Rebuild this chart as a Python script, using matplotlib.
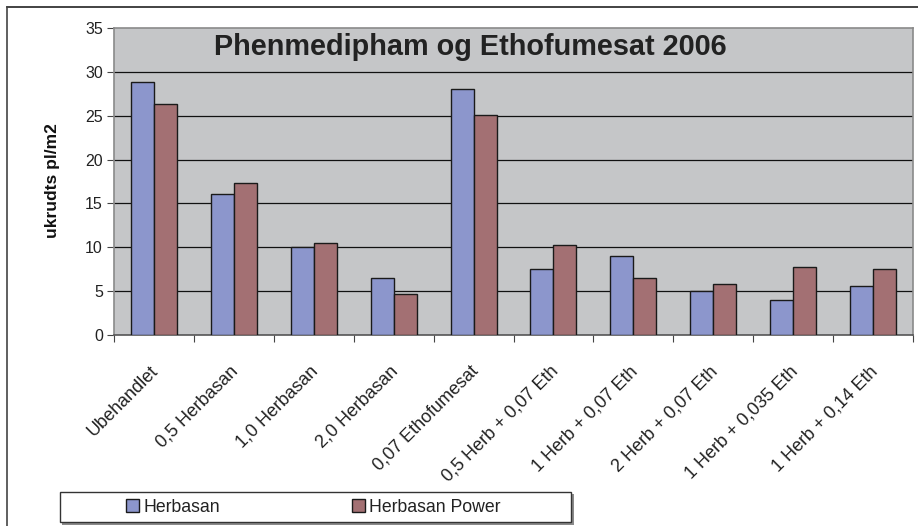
import matplotlib
matplotlib.use("Agg")
import matplotlib.pyplot as plt
from matplotlib.lines import Line2D
from matplotlib.patches import Rectangle
import matplotlib.transforms as mtransforms
import numpy as np

plt.rcParams['font.family'] = ['Liberation Sans', 'DejaVu Sans']

# data
categories = ["Ubehandlet", "0,5 Herbasan", "1,0 Herbasan", "2,0 Herbasan",
              "0,07 Ethofumesat", "0,5 Herb + 0,07 Eth", "1 Herb + 0,07 Eth",
              "2 Herb + 0,07 Eth", "1 Herb + 0,035 Eth", "1 Herb + 0,14 Eth"]
herbasan = [28.8, 16.1, 10.0, 6.5, 28.1, 7.5, 9.0, 5.0, 4.0, 5.55]
herbasan_power = [26.3, 17.3, 10.5, 4.7, 25.1, 10.25, 6.5, 5.8, 7.8, 7.5]
series_names = ["Herbasan", "Herbasan Power"]
yticks = [0, 5, 10, 15, 20, 25, 30, 35]

W, H = 918, 526
fig = plt.figure(figsize=(W / 100, H / 100), dpi=100)
fig.patch.set_facecolor("white")

# plot area in pixel coords
left, right, top, bottom = 114, 913, 28, 335
ax = fig.add_axes([left / W, 1 - bottom / H, (right - left) / W, (bottom - top) / H])
ax.set_facecolor("#C5C6C8")

x = np.arange(len(categories))
bw = 0.288
ax.bar(x - bw / 2, herbasan, bw, color="#8C96CC", edgecolor="#1a1a1a", linewidth=1.0,
       label=series_names[0], zorder=3)
ax.bar(x + bw / 2, herbasan_power, bw, color="#A37073", edgecolor="#1a1a1a", linewidth=1.0,
       label=series_names[1], zorder=3)

ax.set_xlim(-0.5, len(categories) - 0.5)
ax.set_ylim(0, 35)

# y axis
ax.set_yticks(yticks)
ax.set_yticklabels([str(v) for v in yticks], fontsize=11.5, color="#222222")
ax.tick_params(axis="y", direction="out", length=5, width=0.8, color="#444444", pad=3)
for v in yticks[1:-1]:
    ax.axhline(v, color="#111111", linewidth=0.9, zorder=1)

# x axis: ticks at category boundaries, labels at centres
ax.set_xticks(np.arange(-0.5, len(categories), 1), minor=True)
ax.set_xticks(x)
ax.set_xticklabels(categories, rotation=45, ha="right", rotation_mode="anchor",
                   fontsize=13, color="#222222")
ax.tick_params(axis="x", which="major", length=0, pad=20)
ax.tick_params(axis="x", which="minor", direction="out", length=5, width=0.8, color="#444444")
shift = mtransforms.ScaledTranslation(-4 / 100, 0, fig.dpi_scale_trans)
for lbl in ax.get_xticklabels():
    lbl.set_transform(lbl.get_transform() + shift)

for s in ax.spines.values():
    s.set_color("#8a8a8a")
    s.set_linewidth(1.2)
ax.spines["bottom"].set_color("#555555")

# y label
fig.text(52 / W, 1 - 181 / H, "ukrudts pl/m2", fontsize=12.5, fontweight="bold",
         rotation=90, ha="center", va="center", color="#111111")

# title inside plot area
fig.text(470 / W, 1 - 47 / H, "Phenmedipham og Ethofumesat 2006", fontsize=20.8,
         fontweight="bold", ha="center", va="center", color="#222222")

# outer chart border (cut off at right and bottom)
fig.add_artist(Line2D([7 / W, 1.0], [1 - 7 / H, 1 - 7 / H], color="#222222", linewidth=1.2))
fig.add_artist(Line2D([7 / W, 7 / W], [1 - 7 / H, 0.0], color="#444444", linewidth=1.2))

# legend box with a little shadow
fig.add_artist(Rectangle((62 / W, 1 - 525 / H), 512 / W, 31 / H, transform=fig.transFigure,
                         facecolor="#8a8a8a", edgecolor="none"))
fig.add_artist(Rectangle((60 / W, 1 - 522 / H), 511 / W, 30 / H, transform=fig.transFigure,
                         facecolor="white", edgecolor="#333333", linewidth=1.0))
leg = fig.legend(loc="center left", bbox_to_anchor=(126 / W, 1 - 507 / H),
                 ncol=2, fontsize=12.7, frameon=False, handlelength=0.75,
                 handleheight=0.75, handletextpad=0.23, columnspacing=7.5,
                 borderaxespad=0, borderpad=0)
for t in leg.get_texts():
    t.set_color("#222222")

fig.savefig("out.png", dpi=100)
